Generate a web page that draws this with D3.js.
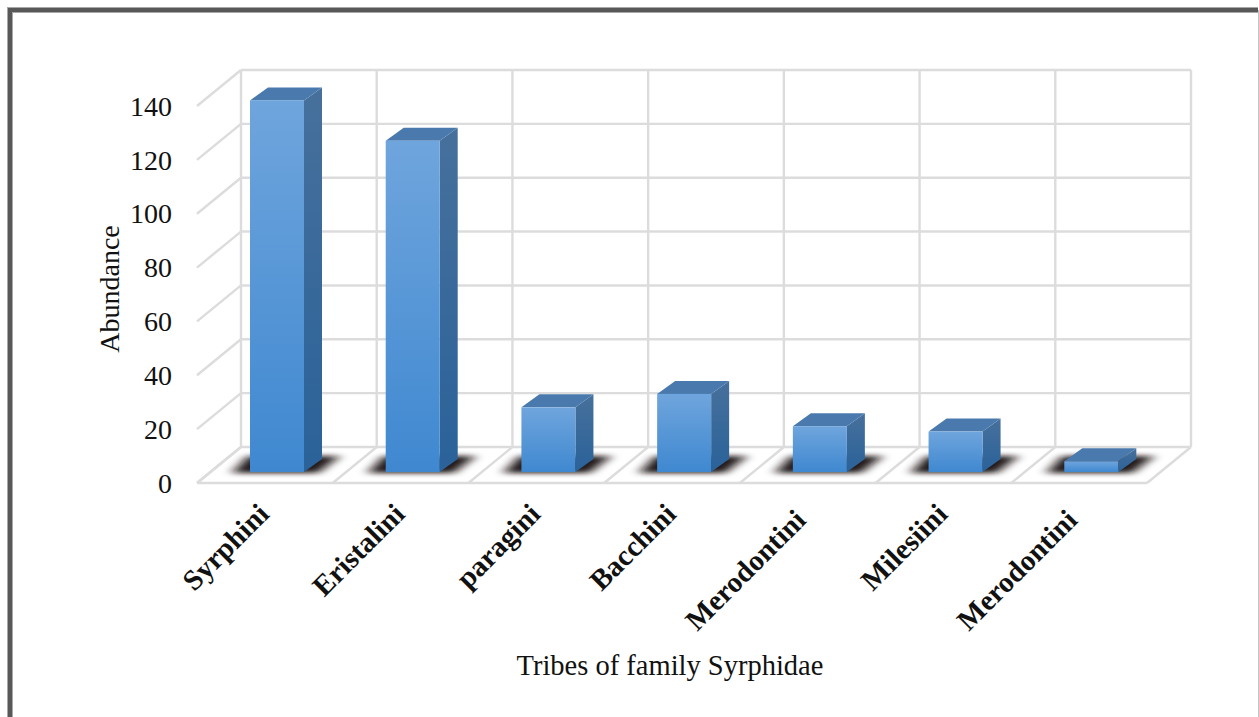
<!DOCTYPE html>
<html><head><meta charset="utf-8">
<script src="https://cdn.jsdelivr.net/npm/d3@7/dist/d3.min.js"></script>
<style>html,body{margin:0;background:#fff}svg{display:block}text{font-family:"Liberation Serif",serif;fill:#111}</style>
</head><body><svg id="c" width="1259" height="717"></svg>
<script>
const categories = ["Syrphini","Eristalini","paragini","Bacchini","Merodontini","Milesiini","Merodontini"];
const abundance = [138,123,24,29,17,15,4];
const yTicks = [0,20,40,60,80,100,120,140];
const yTitle = "Abundance";
const xTitle = "Tribes of family Syrphidae";

const svg = d3.select("#c");
const defs = svg.append("defs");

// Back wall extents, and the projection offset from back wall to front of the floor
const y = d3.scaleLinear().domain([0,140]).range([447,70]);
const x = d3.scaleBand().domain(d3.range(categories.length)).range([241,1191]);
const wallDx = -44, wallDy = 36;
const barWidth = 54, barDepthX = 18, barDepthY = 13;
const barBaseY = 472;
const barOffsetX = 9;
const h = v => y(0) - y(v);

function vGrad(id, top, bottom){
  const g = defs.append("linearGradient").attr("id",id).attr("x1",0).attr("y1",0).attr("x2",0).attr("y2",1);
  g.append("stop").attr("offset","0").attr("stop-color",top);
  g.append("stop").attr("offset","1").attr("stop-color",bottom);
}
vGrad("front","#6fa5dd","#3f88d0");
vGrad("side","#47709c","#2a6299");
defs.append("filter").attr("id","soft").attr("filterUnits","userSpaceOnUse")
  .attr("x",-60).attr("y",430).attr("width",260).attr("height",70)
  .append("feGaussianBlur").attr("stdDeviation","6 2.6");

// Page frame: heavy top and left rules, hairline on the right
svg.append("path").attr("fill","none").attr("stroke","#a8a8a8").attr("stroke-width",6)
  .attr("d","M10,717V10H1258");
svg.append("path").attr("fill","none").attr("stroke","#585858").attr("stroke-width",4)
  .attr("d","M10,717V10H1258");
svg.append("line").attr("x1",1258.5).attr("x2",1258.5).attr("y1",10).attr("y2",717)
  .attr("stroke","#c4c4c4").attr("stroke-width",1);

const grid = svg.append("g").attr("fill","none").attr("stroke","#dcdcdc").attr("stroke-width",2.4);
// Back wall horizontals and side wall slants
yTicks.forEach(t=>{
  grid.append("line").attr("x1",x.range()[0]).attr("x2",x.range()[1]).attr("y1",y(t)).attr("y2",y(t));
  grid.append("line").attr("x1",x.range()[0]).attr("y1",y(t)).attr("x2",x.range()[0]+wallDx).attr("y2",y(t)+wallDy);
});
// Verticals and floor dividers at category boundaries
d3.range(categories.length+1).forEach(i=>{
  const px = x.range()[0] + x.step()*i;
  grid.append("line").attr("x1",px).attr("x2",px).attr("y1",y(140)).attr("y2",y(0));
  grid.append("line").attr("x1",px).attr("y1",y(0)).attr("x2",px+wallDx).attr("y2",y(0)+wallDy);
});
grid.append("line").attr("x1",x.range()[0]+wallDx).attr("x2",x.range()[1]+wallDx).attr("y1",y(0)+wallDy).attr("y2",y(0)+wallDy);

const bars = svg.selectAll("g.bar").data(abundance).join("g").attr("class","bar")
  .attr("transform",(d,i)=>`translate(${x(i)+barOffsetX},0)`);

// Soft floor shadow spreading behind and to both sides of the bar's base
bars.append("path").attr("filter","url(#soft)").attr("fill","#181110").attr("fill-opacity",.95)
  .attr("d",()=>{
    const b = barBaseY;
    return `M-18,${b+1}L${barWidth+14},${b+1}L${barWidth+barDepthX+18},${b-16}L${-2},${b-16}Z`;
  });
// Side face
bars.append("path").attr("fill","url(#side)").attr("d",d=>{
  const t = barBaseY-h(d);
  return `M${barWidth},${t}L${barWidth+barDepthX},${t-barDepthY}L${barWidth+barDepthX},${barBaseY-barDepthY}L${barWidth},${barBaseY}Z`;
});
// Top face
bars.append("path").attr("fill","#4a7aad").attr("d",d=>{
  const t = barBaseY-h(d);
  return `M0,${t}L${barDepthX},${t-barDepthY}L${barWidth+barDepthX},${t-barDepthY}L${barWidth},${t}Z`;
});
// Front face
bars.append("rect").attr("fill","url(#front)").attr("x",0).attr("width",barWidth)
  .attr("y",d=>barBaseY-h(d)).attr("height",d=>h(d));

// Value axis labels, aligned with the front edge of the side wall
svg.append("g").selectAll("text").data(yTicks).join("text")
  .attr("x",172).attr("y",d=>y(d)+wallDy+0.5).attr("dy","0.33em").attr("text-anchor","end")
  .attr("font-size",28).text(d=>d);

// Category labels, rotated; the longest names sit slightly lower on the slant
svg.append("g").selectAll("text").data(categories).join("text")
  .attr("font-size",29).attr("font-weight","bold").attr("text-anchor","end")
  .attr("transform",(d,i)=>{
    const long = d.length > 10;
    return `translate(${x(i)+x.bandwidth()/2+wallDx-1-(long?6:0)},${509+(long?6:0)}) rotate(-45)`;
  })
  .attr("dy","0.33em").text(d=>d);

svg.append("text").attr("text-anchor","middle").attr("font-size",28)
  .attr("transform","translate(110,289) rotate(-90)").attr("dy","0.33em").text(yTitle);
svg.append("text").attr("text-anchor","middle").attr("font-size",28.5)
  .attr("x",670).attr("y",666).attr("dy","0.33em").text(xTitle);
</script></body></html>
